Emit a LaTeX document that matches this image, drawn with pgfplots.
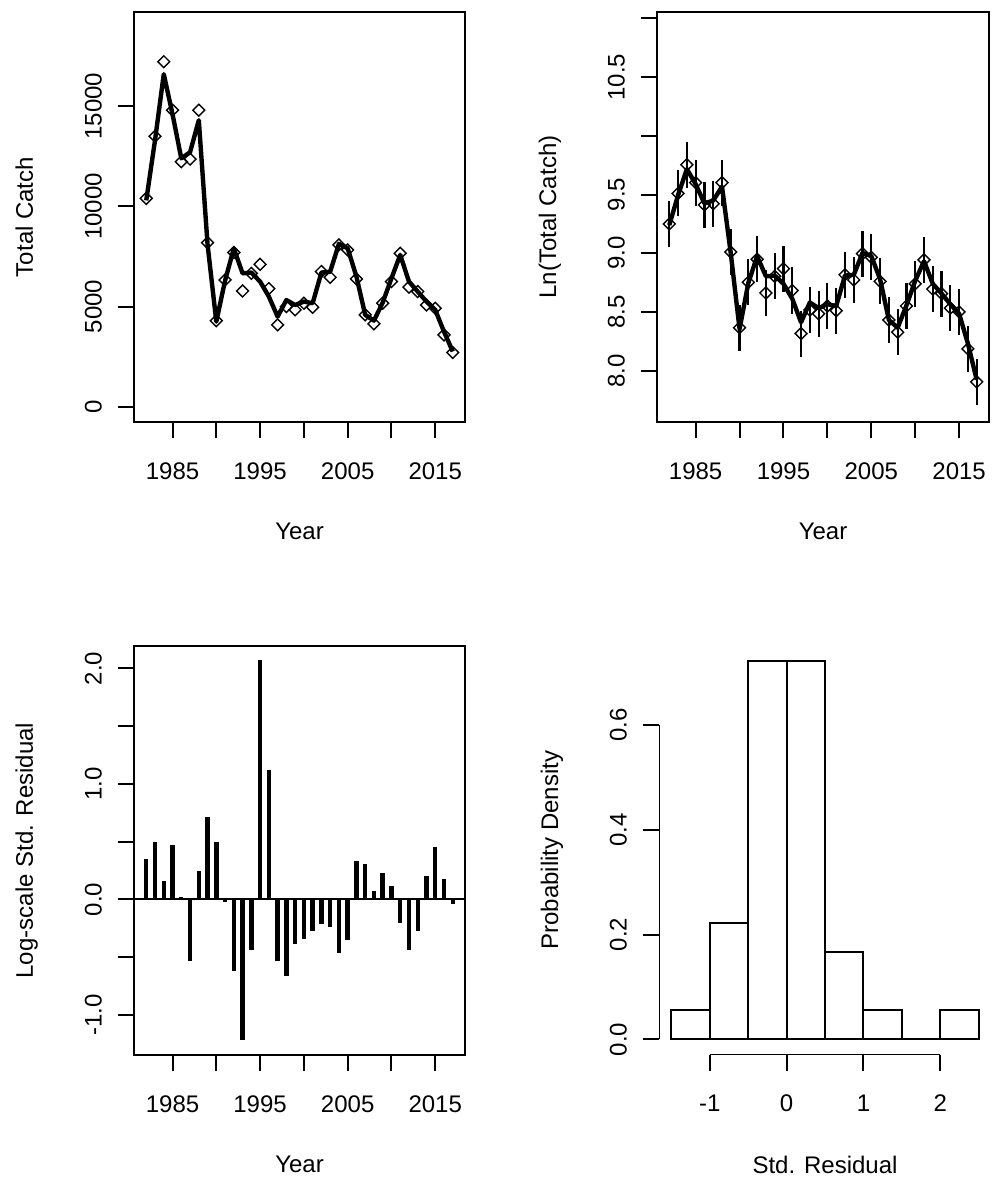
\documentclass[border=0pt]{standalone}
\usepackage{fontspec}
\setmainfont{Liberation Sans}
\usepackage{pgfplots}
\usepackage{pgfplotstable}
\pgfplotsset{compat=1.18}

\pgfplotstableread{
year obs pred lnobs lnpred res
1982 10400 10300 9.250 9.240 0.35
1983 13500 13300 9.510 9.495 0.50
1984 17220 16600 9.754 9.717 0.16
1985 14800 14600 9.602 9.589 0.47
1986 12230 12400 9.412 9.425 0.02
1987 12360 12700 9.422 9.449 -0.53
1988 14800 14300 9.602 9.568 0.25
1989 8190 8100 9.011 8.999 0.71
1990 4300 4250 8.366 8.355 0.50
1991 6330 6300 8.753 8.748 -0.02
1992 7700 7900 8.949 8.975 -0.62
1993 5780 6660 8.662 8.804 -1.22
1994 6660 6700 8.804 8.810 -0.44
1995 7110 6250 8.869 8.740 2.07
1996 5900 5500 8.683 8.613 1.12
1997 4090 4500 8.316 8.412 -0.53
1998 5000 5330 8.517 8.581 -0.66
1999 4840 5080 8.485 8.533 -0.39
2000 5170 5250 8.551 8.566 -0.34
2001 4970 5170 8.511 8.551 -0.27
2002 6750 6700 8.817 8.810 -0.21
2003 6460 6740 8.773 8.816 -0.24
2004 8080 8130 8.997 9.003 -0.46
2005 7830 7910 8.966 8.976 -0.35
2006 6380 6500 8.761 8.780 0.33
2007 4590 4590 8.432 8.432 0.31
2008 4140 4300 8.328 8.366 0.07
2009 5170 5200 8.551 8.556 0.23
2010 6250 6410 8.740 8.766 0.12
2011 7660 7580 8.944 8.933 -0.20
2012 5970 6250 8.695 8.740 -0.44
2013 5750 5750 8.657 8.657 -0.27
2014 5080 5250 8.533 8.566 0.20
2015 4920 4840 8.501 8.485 0.45
2016 3590 3750 8.186 8.230 0.18
2017 2710 2760 7.905 7.923 -0.04
}\catchdata

\pgfplotsset{
  rbase/.style={
    scale only axis,
    font=\fontsize{12}{14.4}\selectfont,
    scaled ticks=false,
    tick align=outside,
    major tick length=8pt,
    tick pos=left,
    every tick/.style={black, line width=1pt},
    axis line style={line width=1pt},
    /pgf/number format/assume math mode=true,
    xticklabel style={anchor=north, inner sep=0pt},
    xticklabel shift=12pt,
    yticklabel style={rotate=90, anchor=base, inner sep=0pt},
    yticklabel shift=8.25pt,
    xlabel style={at={([yshift=-50.5pt]axis description cs:0.5,0)}, anchor=north, inner sep=0pt},
    ylabel style={at={([xshift=-50.5pt]axis description cs:0,0.5)}, anchor=base, inner sep=0pt},
  },
  rmark/.style={only marks, mark=square, mark size=2.1pt,
    mark options={rotate=45, line width=0.7pt, black, solid}},
}

\begin{document}
\begin{tikzpicture}
\useasboundingbox (0,0) rectangle (496.5pt,-592pt);

% Top left
\begin{axis}[rbase, at={(67pt,-6pt)}, anchor=north west,
  width=165.5pt, height=205pt,
  xmin=1980.6, xmax=2018.4, ymin=-758, ymax=19700,
  xtick={1985,1990,1995,2000,2005,2010,2015},
  xticklabels={1985,,1995,,2005,,2015},
  ytick={0,5000,10000,15000},
  yticklabels={0,5000,10000,15000},
  xlabel={Year}, ylabel={Total Catch}]
\addplot[black, line width=2.2pt, line join=round] table[x=year, y=pred] {\catchdata};
\addplot[rmark] table[x=year, y=obs] {\catchdata};
\end{axis}

% Top right
\begin{axis}[rbase, at={(328.5pt,-6pt)}, anchor=north west,
  width=166pt, height=205pt,
  xmin=1980.6, xmax=2018.4, ymin=7.563, ymax=11.055,
  xtick={1985,1990,1995,2000,2005,2010,2015},
  xticklabels={1985,,1995,,2005,,2015},
  ytick={8,8.5,9,9.5,10,10.5,11},
  yticklabels={8.0,8.5,9.0,9.5,,10.5,},
  xlabel={Year}, ylabel={Ln(Total Catch)}]
\addplot[black, line width=2.2pt, line join=round] table[x=year, y=lnpred] {\catchdata};
\addplot[rmark, error bars/.cd, y dir=both, y fixed=0.196,
  error mark=none, error bar style={line width=1.1pt, black}]
  table[x=year, y=lnobs] {\catchdata};
\end{axis}

% Bottom left
\begin{axis}[rbase, at={(67pt,-323pt)}, anchor=north west,
  width=165.5pt, height=204.5pt,
  xmin=1980.6, xmax=2018.4, ymin=-1.347, ymax=2.194,
  xtick={1985,1990,1995,2000,2005,2010,2015},
  xticklabels={1985,,1995,,2005,,2015},
  ytick={-1,-0.5,0,0.5,1,1.5,2},
  yticklabels={-1.0,,0.0,,1.0,,2.0},
  xlabel={Year}, ylabel={Log-scale Std. Residual}]
\addplot[black, line width=1pt] coordinates {(1980.6,0) (2018.4,0)};
\addplot[ycomb, black, line width=2.2pt] table[x=year, y=res] {\catchdata};
\end{axis}

% Bottom right
\begin{axis}[rbase, at={(329.5pt,-323pt)}, anchor=north west,
  width=166pt, height=204.25pt,
  axis x line*=bottom, axis y line*=left,
  axis line style={draw=none},
  tick align=outside,
  xmin=-1.66, xmax=2.66, ymin=-0.0289, ymax=0.751,
  xtick={-1,0,1,2}, xticklabels={-1,0,1,2},
  ytick={0,0.2,0.4,0.6}, yticklabels={0.0,0.2,0.4,0.6},
  xlabel={Std. Residual}, ylabel={Probability Density}]
\addplot[ybar interval, draw=black, fill=none, line width=1pt]
  coordinates {(-1.5,0.0556) (-1,0.2222) (-0.5,0.7222) (0,0.7222)
               (0.5,0.1667) (1,0.0556) (1.5,0) (2,0.0556) (2.5,0.0556)};
\draw[line width=1pt] (axis cs:-1,-0.0289) -- (axis cs:2,-0.0289);
\draw[line width=1pt] (axis cs:-1.66,0) -- (axis cs:-1.66,0.6);
\end{axis}
\end{tikzpicture}
\end{document}
